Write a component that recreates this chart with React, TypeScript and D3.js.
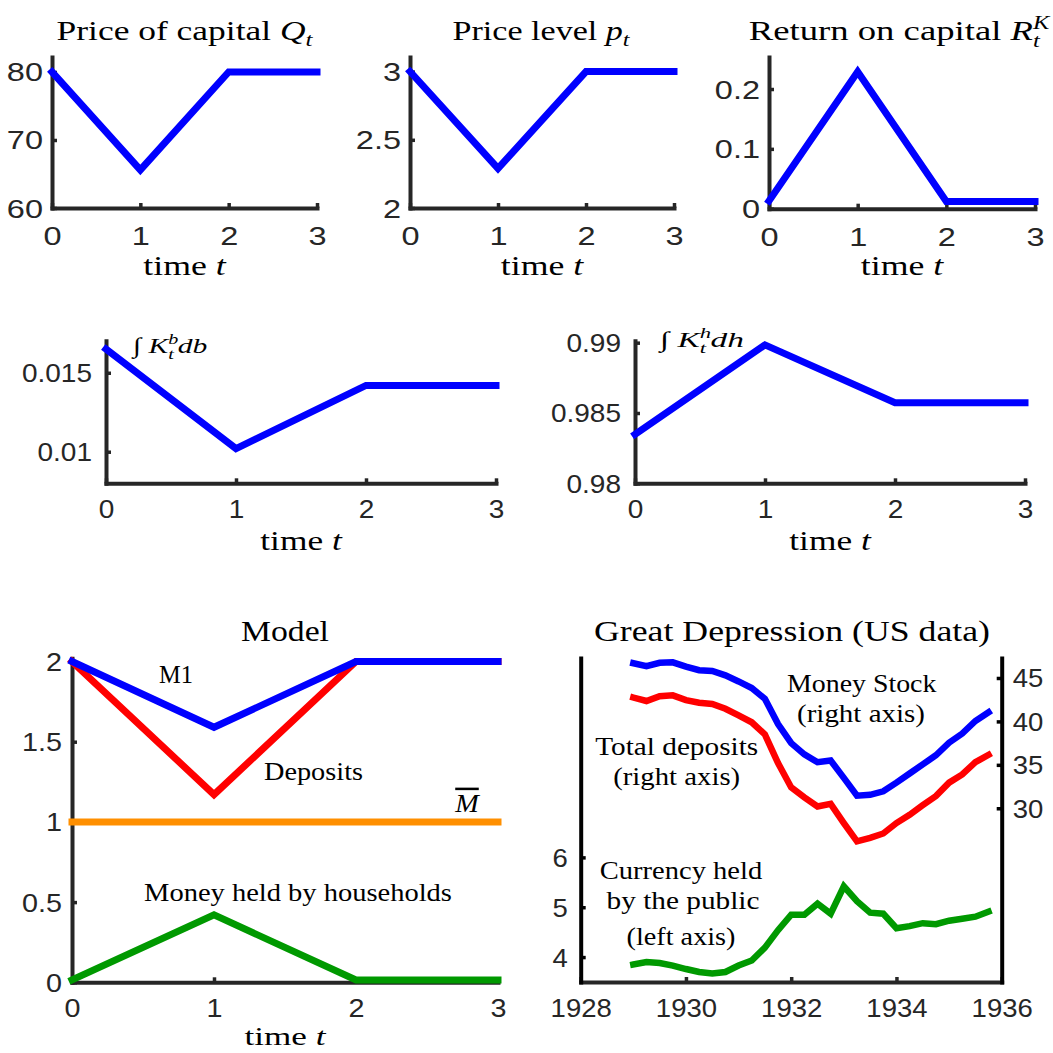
import React, { useEffect, useLayoutEffect, useRef, useState } from 'react';
import * as d3 from 'd3';

const SERIF = '"Liberation Serif", "Times New Roman", serif';
const SANS = '"Liberation Sans", Arial, sans-serif';
const AXIS = '#262626';

// model periods and responses
const periods = [0, 1, 2, 3];
const priceCapital = [80, 65.6, 80, 80];
const priceLevel = [3, 2.29, 3, 3];
const returnCapital = [0.013, 0.229, 0.012, 0.012];
const capitalBanks = [0.0165, 0.0102, 0.0142, 0.0142];
const capitalHouseholds = [0.98348, 0.98984, 0.98573, 0.98573];
const m1 = [2, 1.59, 2, 2];
const deposits = [2, 1.17, 2, 2];
const mBar = [1, 1, 1, 1];
const moneyHouseholds = [0.015, 0.42, 0.015, 0.015];

// Great Depression, quarterly
const years = [
  1929, 1929.25, 1929.5, 1929.75, 1930, 1930.25, 1930.5, 1930.75, 1931, 1931.25,
  1931.5, 1931.75, 1932, 1932.25, 1932.5, 1932.75, 1933, 1933.25, 1933.5, 1933.75,
  1934, 1934.25, 1934.5, 1934.75, 1935, 1935.25, 1935.5, 1935.75,
];
const moneyStock = [
  46.7, 46.35, 46.75, 46.8, 46.3, 45.9, 45.8, 45.3, 44.6, 43.85,
  42.6, 39.7, 37.5, 36.2, 35.3, 35.5, 33.5, 31.45, 31.55, 31.95,
  32.95, 34.0, 35.05, 36.1, 37.55, 38.6, 40.05, 41.05,
];
const totalDeposits = [
  42.75, 42.35, 42.9, 43.0, 42.45, 42.15, 42.0, 41.45, 40.7, 39.9,
  38.5, 35.2, 32.4, 31.25, 30.2, 30.5, 28.3, 26.2, 26.6, 27.1,
  28.3, 29.25, 30.35, 31.4, 32.95, 33.9, 35.3, 36.15,
];
const currency = [
  3.85, 3.9, 3.88, 3.83, 3.76, 3.7, 3.67, 3.7, 3.83, 3.93,
  4.19, 4.54, 4.85, 4.85, 5.07, 4.87, 5.42, 5.12, 4.89, 4.87,
  4.58, 4.62, 4.68, 4.66, 4.73, 4.77, 4.81, 4.91,
];

const timeTicks = [0, 1, 2, 3];
const qTicks = [60, 70, 80];
const pTicks = [2, 2.5, 3];
const rTicks = [0, 0.1, 0.2];
const kbTicks = [0.01, 0.015];
const khTicks = [0.98, 0.985, 0.99];
const modelTicks = [0, 0.5, 1, 1.5, 2];
const yearTicks = [1928, 1930, 1932, 1934, 1936];
const currencyTicks = [4, 5, 6];
const stockTicks = [30, 35, 40, 45];

type Series = { x: number[]; y: number[]; color: string; right?: boolean };

type PanelProps = {
  box: [number, number, number, number]; // left, right, top, bottom
  xDomain: [number, number];
  yDomain: [number, number];
  y2Domain?: [number, number];
  xTicks: number[];
  yTicks: number[];
  y2Ticks?: number[];
  series: Series[];
  sx: number;
  yGap: number;
  y2Gap?: number;
  xGap: number;
  yColor?: string;
  lw?: number;
};

const Panel = (p: PanelProps) => {
  const ref = useRef<SVGGElement>(null);

  useEffect(() => {
    const [left, right, top, bottom] = p.box;
    const g = d3.select(ref.current);
    g.selectAll('*').remove();

    const x = d3.scaleLinear().domain(p.xDomain).range([left, right]);
    const y = d3.scaleLinear().domain(p.yDomain).range([bottom, top]);
    const y2 = p.y2Domain ? d3.scaleLinear().domain(p.y2Domain).range([bottom, top]) : y;

    const style = (sel: any, color: string) => {
      sel.attr('font-family', SANS).attr('font-size', 25);
      sel.select('.domain').attr('stroke', color).attr('stroke-width', 4).attr('stroke-linecap', 'square');
      sel.selectAll('.tick line').attr('stroke', color).attr('stroke-width', 3.5);
      sel.selectAll('.tick text').attr('fill', AXIS);
    };

    // x axis, ticks pointing in
    const xa = g
      .append('g')
      .attr('transform', `translate(0,${bottom})`)
      .call(d3.axisBottom(x).tickValues(p.xTicks).tickSizeInner(-5).tickSizeOuter(0).tickFormat((d: any) => String(d)));
    style(xa, AXIS);
    xa.selectAll('.tick text')
      .attr('y', 0)
      .attr('dy', 0)
      .attr('transform', `translate(0,${p.xGap}) scale(${p.sx},1)`);

    // y axis
    const ya = g
      .append('g')
      .attr('transform', `translate(${left},0)`)
      .call(d3.axisLeft(y).tickValues(p.yTicks).tickSizeInner(-5).tickSizeOuter(0).tickFormat((d: any) => String(d)));
    style(ya, p.yColor || AXIS);
    ya.selectAll('.tick text')
      .attr('x', 0)
      .attr('dy', '0.36em')
      .attr('transform', `translate(${-p.yGap},0) scale(${p.sx},1)`);

    // right axis
    if (p.y2Domain && p.y2Ticks) {
      const ra = g
        .append('g')
        .attr('transform', `translate(${right},0)`)
        .call(d3.axisRight(y2).tickValues(p.y2Ticks).tickSizeInner(-5).tickSizeOuter(0).tickFormat((d: any) => String(d)));
      style(ra, p.yColor || AXIS);
      ra.selectAll('.tick text')
        .attr('x', 0)
        .attr('dy', '0.36em')
        .attr('transform', `translate(${p.y2Gap || 10},0) scale(${p.sx},1)`);
    }

    // lines
    p.series.forEach((s) => {
      const ys = s.right ? y2 : y;
      const line = d3
        .line<number>()
        .x((d, i) => x(s.x[i]))
        .y((d) => ys(d));
      g.append('path')
        .attr('d', line(s.y))
        .attr('fill', 'none')
        .attr('stroke', s.color)
        .attr('stroke-width', p.lw || 7)
        .attr('stroke-linejoin', 'miter')
        .attr('stroke-linecap', 'square');
    });
  }, [p]);

  return <g ref={ref} />;
};

// text stretched horizontally to a measured width
const Label = ({ x, y, w, size, anchor = 'middle', children }: any) => {
  const ref = useRef<SVGTextElement>(null);
  const [sx, setSx] = useState(1);
  useLayoutEffect(() => {
    if (ref.current && w) {
      const bw = ref.current.getBBox().width;
      if (bw > 0) setSx(w / bw);
    }
  }, [w]);
  return (
    <text
      ref={ref}
      transform={`translate(${x},${y}) scale(${sx},1)`}
      textAnchor={anchor}
      fontFamily={SERIF}
      fontSize={size}
      fill="#000"
    >
      {children}
    </text>
  );
};

const I = ({ children, ...rest }: any) => (
  <tspan fontStyle="italic" {...rest}>
    {children}
  </tspan>
);

const BLUE = '#0000ff';
const RED = '#ff0000';
const GREEN = '#009900';
const ORANGE = '#ff8f00';

const App = () => {
  const row1 = { xDomain: [0, 3] as [number, number], xTicks: timeTicks, sx: 1.3, yGap: 9, xGap: 37 };
  const row2 = { xDomain: [0, 3] as [number, number], xTicks: timeTicks, sx: 1.12, yGap: 14, xGap: 35 };

  return (
    <svg width={1053} height={1053} style={{ position: 'absolute', left: 0, top: 0, background: '#fff' }}>
      <rect width={1053} height={1053} fill="#fff" />

      {/* row 1 */}
      <Panel {...row1} box={[52, 317, 57, 208]} yDomain={[60, 82.2]} yTicks={qTicks}
        series={[{ x: periods, y: priceCapital, color: BLUE }]} />
      <Panel {...row1} box={[410, 674, 57, 208]} yDomain={[2, 3.107]} yTicks={pTicks}
        series={[{ x: periods, y: priceLevel, color: BLUE }]} />
      <Panel {...row1} box={[769, 1035, 57, 208.7]} yDomain={[0, 0.2535]} yTicks={rTicks}
        series={[{ x: periods, y: returnCapital, color: BLUE }]} />

      <Label x={184.5} y={40} w={257} size={27}>
        {'Price of capital '}<I>Q</I><I fontSize={19} dy={6}>t</I>
      </Label>
      <Label x={541} y={40} w={178} size={27}>
        {'Price level '}<I>p</I><I fontSize={19} dy={6}>t</I>
      </Label>
      <Label x={899} y={40} w={302} size={27}>
        {'Return on capital '}<I>R</I><I fontSize={18} dy={-11}>K</I><I fontSize={18} dx={-12} dy={18}>t</I>
      </Label>
      {[184.5, 542, 902].map((cx) => (
        <Label key={cx} x={cx} y={275} w={84} size={28}>
          {'time '}<I>t</I>
        </Label>
      ))}

      {/* row 2 */}
      <Panel {...row2} box={[106, 496, 340.7, 483.3]} yDomain={[0.008, 0.01703]} yTicks={kbTicks}
        series={[{ x: periods, y: capitalBanks, color: BLUE }]} />
      <Panel {...row2} box={[635, 1025, 340.7, 483.3]} yDomain={[0.98, 0.99014]} yTicks={khTicks}
        series={[{ x: periods, y: capitalHouseholds, color: BLUE }]} />

      <Label x={133} y={353} w={77} size={22} anchor="start">
        {'∫ '}<I>K</I><I fontSize={15} dy={-9}>b</I><I fontSize={15} dx={-7.5} dy={15}>t</I><I dx={3} dy={-6}>db</I>
      </Label>
      <Label x={660} y={347} w={87} size={22} anchor="start">
        {'∫ '}<I>K</I><I fontSize={15} dy={-9}>h</I><I fontSize={15} dx={-7.5} dy={15}>t</I><I dx={3} dy={-6}>dh</I>
      </Label>
      {[301, 830].map((cx) => (
        <Label key={cx} x={cx} y={550} w={83} size={28}>
          {'time '}<I>t</I>
        </Label>
      ))}

      {/* row 3: model */}
      <Panel xDomain={[0, 3]} xTicks={timeTicks} sx={1.15} yGap={10} xGap={35}
        box={[72, 498, 658.3, 982.3]} yDomain={[0, 2.02]} yTicks={modelTicks}
        series={[
          { x: periods, y: mBar, color: ORANGE },
          { x: periods, y: moneyHouseholds, color: GREEN },
          { x: periods, y: deposits, color: RED },
          { x: periods, y: m1, color: BLUE },
        ]} />
      <Label x={285} y={641} w={88} size={30}>Model</Label>
      <Label x={176} y={683} w={34} size={25}>M1</Label>
      <Label x={313.5} y={780} w={99} size={25}>Deposits</Label>
      <Label x={467} y={812} w={26} size={25}>
        <I textDecoration="overline">M</I>
      </Label>
      <Label x={298} y={901} w={308} size={25}>Money held by households</Label>
      <Label x={285} y={1045} w={82} size={26}>
        {'time '}<I>t</I>
      </Label>

      {/* row 3: data */}
      <Panel xDomain={[1928, 1936]} xTicks={yearTicks} sx={1.1} yGap={13} y2Gap={11} xGap={35} lw={6.5}
        box={[580.7, 1001.7, 658, 982]} yDomain={[3.5, 10]} yTicks={currencyTicks}
        y2Domain={[10, 47.3]} y2Ticks={stockTicks} yColor="#000"
        series={[
          { x: years, y: moneyStock, color: BLUE, right: true },
          { x: years, y: totalDeposits, color: RED, right: true },
          { x: years, y: currency, color: GREEN },
        ]} />
      <Label x={792} y={641} w={396} size={30}>Great Depression (US data)</Label>
      <Label x={861.7} y={691.7} w={150} size={25}>Money Stock</Label>
      <Label x={861} y={721.7} w={128} size={25}>(right axis)</Label>
      <Label x={676.7} y={755} w={163} size={25}>Total deposits</Label>
      <Label x={676.7} y={785} w={127} size={25}>(right axis)</Label>
      <Label x={681} y={879.3} w={163} size={25}>Currency held</Label>
      <Label x={683} y={909} w={153} size={25}>by the public</Label>
      <Label x={681} y={945} w={109} size={25}>(left axis)</Label>
    </svg>
  );
};

export default App;
